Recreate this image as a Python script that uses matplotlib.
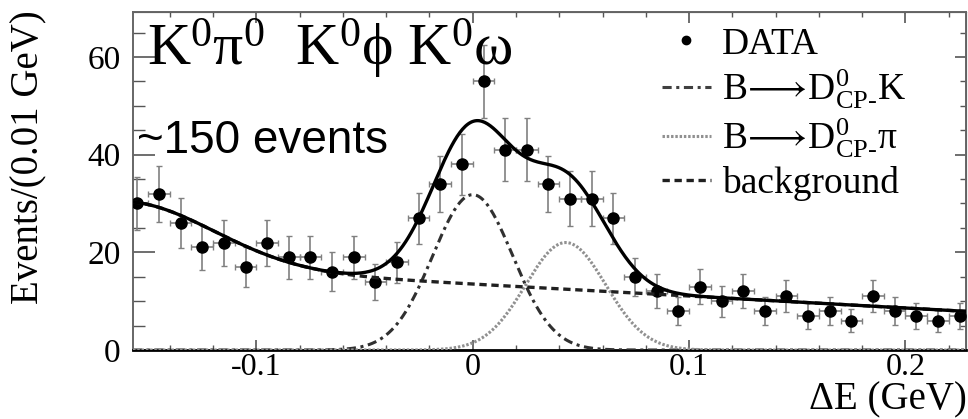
import numpy as np
import matplotlib
matplotlib.use("Agg")
import matplotlib.pyplot as plt
from matplotlib.lines import Line2D
from matplotlib.ticker import MultipleLocator

plt.rcParams['font.family'] = ['Liberation Serif', 'DejaVu Serif']
plt.rcParams['mathtext.fontset'] = 'custom'
plt.rcParams['mathtext.rm'] = 'Liberation Serif'
plt.rcParams['mathtext.it'] = 'Liberation Serif'
plt.rcParams['mathtext.bf'] = 'Liberation Serif:bold'
plt.rcParams['axes.unicode_minus'] = False

# data points: bin centres (GeV), counts per 0.01 GeV, errors
de_centers = [-0.155, -0.145, -0.135, -0.125, -0.115, -0.105, -0.095, -0.085,
              -0.075, -0.065, -0.055, -0.045, -0.035, -0.025, -0.015, -0.005,
              0.005, 0.015, 0.025, 0.035, 0.045, 0.055, 0.065, 0.075, 0.085,
              0.095, 0.105, 0.115, 0.125, 0.135, 0.145, 0.155, 0.165, 0.175,
              0.185, 0.195, 0.205, 0.215, 0.225]
counts = [30, 32, 26, 21, 22, 17, 22, 19, 19, 16, 19, 14, 18, 27, 34, 38,
          55, 41, 41, 34, 31, 31, 27, 15, 12, 8, 13, 10, 12, 8, 11, 7, 8, 6,
          11, 8, 7, 6, 7]
count_err = [5.5, 5.7, 5.1, 4.6, 4.7, 4.1, 4.7, 4.4, 4.4, 4.0, 4.4, 3.7, 4.2,
             5.2, 5.8, 6.2, 7.4, 6.4, 6.4, 5.8, 5.6, 5.6, 5.2, 3.9, 3.5, 2.8,
             3.6, 3.2, 3.5, 2.8, 3.3, 2.6, 2.8, 2.4, 3.3, 2.8, 2.6, 2.4, 2.6]
bin_half = 0.005

# fit components
k_mean, k_sigma, k_amp = 0.0, 0.0185, 31.8
pi_mean, pi_sigma, pi_amp = 0.043, 0.0185, 22.0
bkg_const, bkg_slope = 13.5, -24.5
bump_mean, bump_sigma, bump_amp = -0.16, 0.0406, 13.0

xlim = (-0.157, 0.228)
ylim = (0, 69.2)


def gauss(x, amp, mean, sigma):
    return amp * np.exp(-(x - mean) ** 2 / (2 * sigma ** 2))


x = np.linspace(xlim[0], xlim[1], 600)
sig_k = gauss(x, k_amp, k_mean, k_sigma)
sig_pi = gauss(x, pi_amp, pi_mean, pi_sigma)
bkg = bkg_const + bkg_slope * x + gauss(x, bump_amp, bump_mean, bump_sigma)
total = sig_k + sig_pi + bkg

fig = plt.figure(figsize=(9.68, 4.19), dpi=100)
ax = fig.add_axes([133 / 968, 1 - 350 / 419, (966 - 133) / 968, (350 - 12) / 419])

k_style = (0, (3, 1.5, 1, 1.5))
pi_style = (0, (0.8, 0.6))
bkg_style = (0, (2.2, 1.4))

ax.errorbar(de_centers, counts, yerr=count_err, xerr=bin_half, fmt='o',
            color='black', ms=8, ecolor='#808080', elinewidth=1.2,
            capsize=2, capthick=1.0, zorder=3)
ax.plot(x, sig_k, color='#303030', lw=2.2, ls=k_style, zorder=4)
ax.plot(x, sig_pi, color='#909090', lw=2.2, ls=pi_style, zorder=4)
ax.plot(x, bkg, color='#202020', lw=2.4, ls=bkg_style, zorder=4)
ax.plot(x, total, color='black', lw=2.4, zorder=5)

ax.set_xlim(*xlim)
ax.set_ylim(*ylim)
ax.set_xticks([-0.1, 0.0, 0.1, 0.2])
ax.set_xticklabels(['-0.1', '0', '0.1', '0.2'])
ax.set_yticks([0, 20, 40, 60])
ax.xaxis.set_minor_locator(MultipleLocator(0.02))
ax.yaxis.set_minor_locator(MultipleLocator(5))
ax.tick_params(axis='both', which='both', direction='in', color='#555555')
ax.tick_params(axis='y', labelsize=24)
ax.tick_params(axis='x', labelsize=23)
ax.tick_params(axis='y', which='major', length=16, width=1.2, pad=9)
ax.tick_params(axis='y', which='minor', length=8.5, width=1.0)
ax.tick_params(axis='x', which='major', length=7, width=1.2, pad=2)
ax.tick_params(axis='x', which='minor', length=3.5, width=1.0)

# top and right ticks, shorter than left/bottom
top = ax.secondary_xaxis('top')
top.set_xticks([-0.1, 0.0, 0.1, 0.2])
top.xaxis.set_minor_locator(MultipleLocator(0.02))
top.tick_params(which='both', direction='in', labeltop=False, color='#555555')
top.tick_params(which='major', length=8, width=1.2)
top.tick_params(which='minor', length=3.5, width=1.0)
right = ax.secondary_yaxis('right')
right.set_yticks([0, 20, 40, 60])
right.yaxis.set_minor_locator(MultipleLocator(5))
right.tick_params(which='both', direction='in', labelright=False, color='#555555')
right.tick_params(which='major', length=8, width=1.2)
right.tick_params(which='minor', length=4.5, width=1.0)
for sp in ax.spines.values():
    sp.set_color('#666666')
    sp.set_linewidth(1.4)
ax.spines['bottom'].set_color('black')
ax.spines['bottom'].set_linewidth(2)

fig.text(29 / 968, 1 - 157 / 419, 'Events/(0.01 GeV)', rotation=90,
         ha='center', va='center', fontsize=28)
fig.text(0.999, 1 - 409 / 419, 'ΔE (GeV)', ha='right', va='baseline',
         fontsize=28)

fig.text(147 / 968, 1 - 65 / 419, 'K$^0$π$^0$  K$^0$ϕ K$^0$ω',
         fontsize=43, va='baseline')
fig.text(137 / 968, 1 - 153 / 419, '~150 events', fontsize=33,
         family=['Liberation Sans', 'DejaVu Sans'], va='baseline')

handles = [
    Line2D([], [], marker='o', ls='none', color='black', ms=6),
    Line2D([], [], color='#404040', lw=2.2, ls=k_style),
    Line2D([], [], color='#909090', lw=2.2, ls=pi_style),
    Line2D([], [], color='#202020', lw=2.4, ls=bkg_style),
]
arrow = '$\\!\\longrightarrow\\!$'
labels = ['DATA', 'B' + arrow + 'D$^0_{\\mathrm{CP}\\text{-}}$K',
          'B' + arrow + 'D$^0_{\\mathrm{CP}\\text{-}}$π', 'background']
ax.legend(handles, labels, loc='upper left',
          bbox_to_anchor=(662 / 968, 1 - 27 / 419),
          bbox_transform=fig.transFigure, frameon=False, fontsize=27,
          handlelength=1.3, handletextpad=0.3, labelspacing=0.15,
          borderpad=0, borderaxespad=0)

fig.savefig('out.png', dpi=100)
